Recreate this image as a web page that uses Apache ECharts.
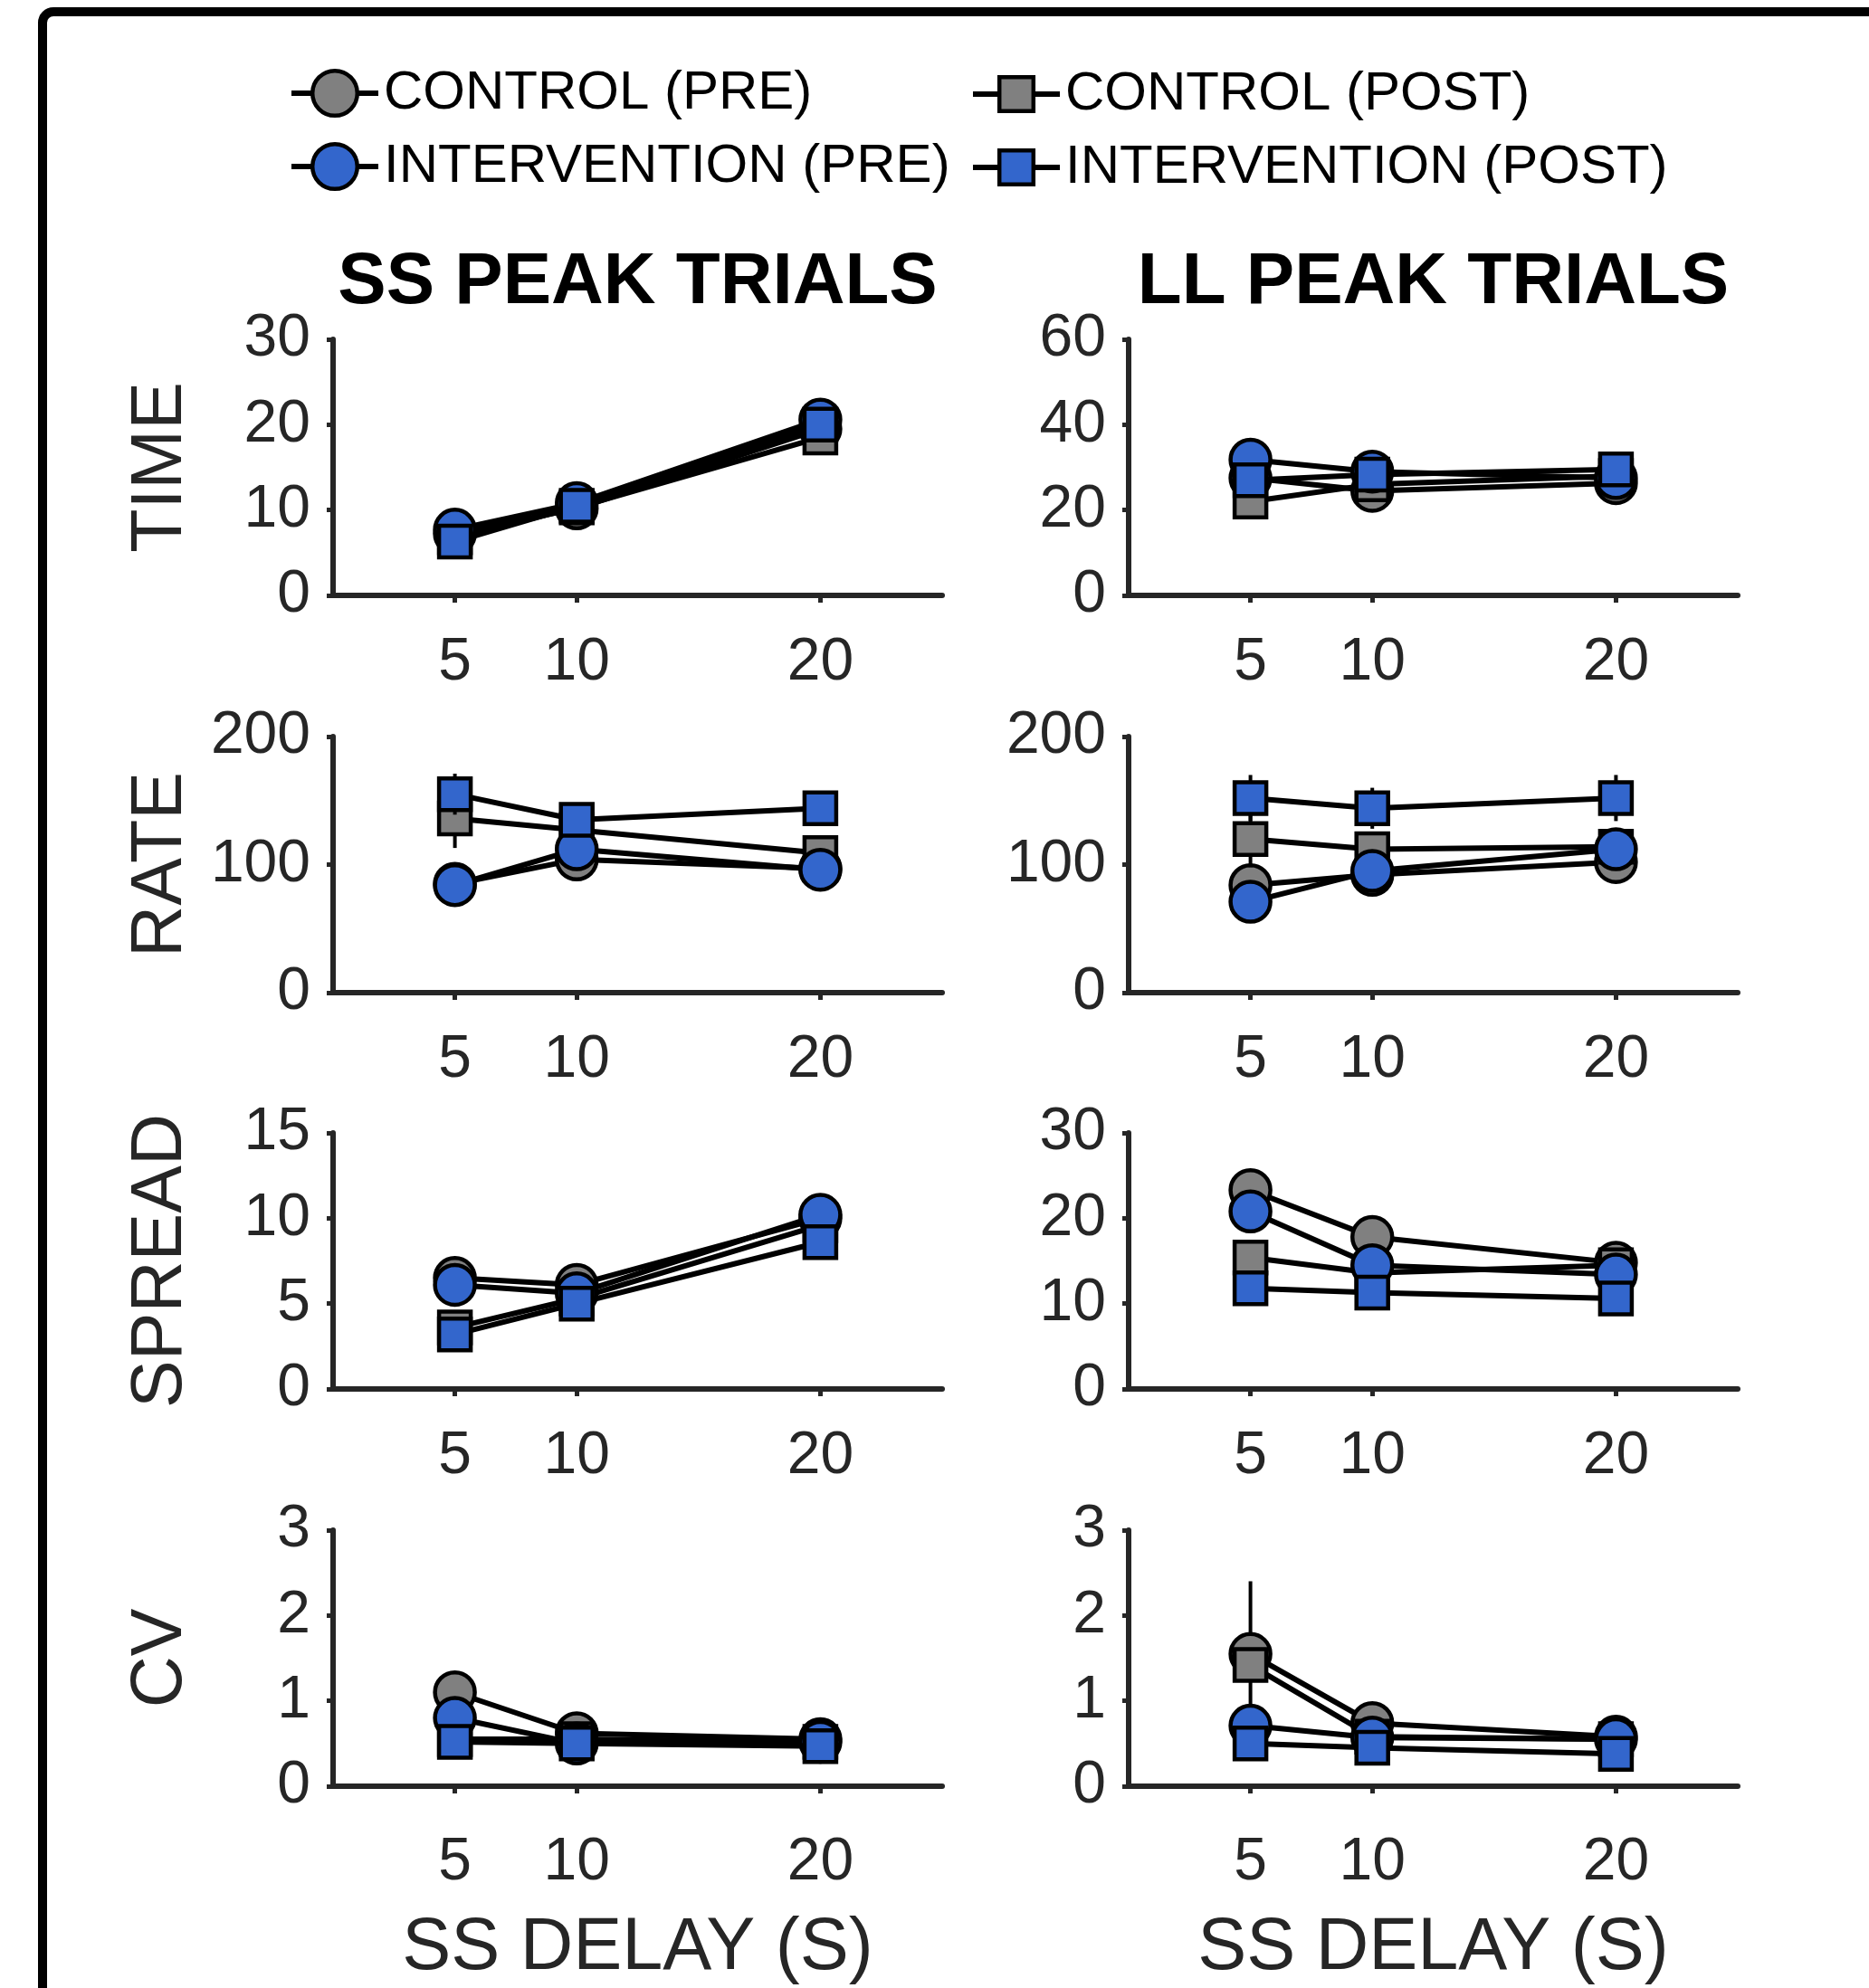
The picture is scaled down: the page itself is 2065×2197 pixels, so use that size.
<!DOCTYPE html>
<html>
<head>
<meta charset="utf-8">
<script src="https://cdn.jsdelivr.net/npm/echarts@6/dist/echarts.min.js"></script>
<style>
  html, body { margin: 0; padding: 0; background: #fff; }
  #chart { width: 2065px; height: 2197px; }
</style>
</head>
<body>
<div id="chart"></div>
<script>
// SS delay levels (seconds) and the ticks shown on every x axis
const delays = [5, 10, 20];
const xTicks = [5, 10, 20];
const groupNames = ['CONTROL (PRE)', 'CONTROL (POST)', 'INTERVENTION (PRE)', 'INTERVENTION (POST)'];
const metricNames = ['TIME', 'RATE', 'SPREAD', 'CV'];
const columnTitles = ['SS PEAK TRIALS', 'LL PEAK TRIALS'];
const xAxisTitle = 'SS DELAY (S)';

// ---- SS peak trials ----
const ssTimeCtrlPre  = [7.2, 10.2, 19.5];
const ssTimeCtrlPost = [6.8, 10.3, 18.5];
const ssTimeIntPre   = [7.7, 10.8, 20.6];
const ssTimeIntPost  = [6.3, 10.5, 20.0];

const ssRateCtrlPre  = [85, 104, 97];
const ssRateCtrlPost = [136, 127, 109];
const ssRateIntPre   = [84, 112, 96];
const ssRateIntPost  = [155, 135, 144];
const ssRateCtrlPostErr = [23, 0, 0];
const ssRateIntPostErr  = [16, 0, 0];

const ssSpreadCtrlPre  = [6.5, 6.1, 10.0];
const ssSpreadCtrlPost = [3.6, 5.3, 9.6];
const ssSpreadIntPre   = [6.1, 5.6, 10.2];
const ssSpreadIntPost  = [3.2, 5.0, 8.6];

const ssCvCtrlPre  = [1.10, 0.62, 0.55];
const ssCvCtrlPost = [0.55, 0.55, 0.52];
const ssCvIntPre   = [0.80, 0.50, 0.52];
const ssCvIntPost  = [0.52, 0.50, 0.47];

// ---- LL peak trials ----
const llTimeCtrlPre  = [27.5, 24.5, 26.3];
const llTimeCtrlPost = [22.0, 26.0, 28.0];
const llTimeIntPre   = [31.8, 29.0, 27.5];
const llTimeIntPost  = [27.0, 28.3, 29.5];

const llRateCtrlPre  = [84, 92, 102];
const llRateCtrlPost = [120, 112, 114];
const llRateIntPre   = [71, 95, 112];
const llRateIntPost  = [152, 144, 152];
const llRateCtrlPostErr = [22, 0, 0];
const llRateIntPostErr  = [18, 16, 18];

const llSpreadCtrlPre  = [23.3, 17.8, 14.8];
const llSpreadCtrlPost = [15.4, 13.6, 14.5];
const llSpreadIntPre   = [20.8, 14.5, 13.4];
const llSpreadIntPost  = [11.8, 11.3, 10.6];

const llCvCtrlPre  = [1.55, 0.74, 0.58];
const llCvCtrlPost = [1.42, 0.58, 0.55];
const llCvIntPre   = [0.71, 0.57, 0.55];
const llCvIntPost  = [0.50, 0.45, 0.38];
const llCvCtrlPreErr = [0.85, 0, 0];

// y-axis ranges per metric row
const yMax      = [[30, 60], [200, 200], [15, 30], [3, 3]];
const yInterval = [[10, 20], [100, 100], [5, 10], [1, 1]];

// panels: [row][col] -> four groups of values and optional error arrays
const panels = [
  [
    { vals: [ssTimeCtrlPre, ssTimeCtrlPost, ssTimeIntPre, ssTimeIntPost], errs: [] },
    { vals: [llTimeCtrlPre, llTimeCtrlPost, llTimeIntPre, llTimeIntPost], errs: [] }
  ],
  [
    { vals: [ssRateCtrlPre, ssRateCtrlPost, ssRateIntPre, ssRateIntPost], errs: [null, ssRateCtrlPostErr, null, ssRateIntPostErr] },
    { vals: [llRateCtrlPre, llRateCtrlPost, llRateIntPre, llRateIntPost], errs: [null, llRateCtrlPostErr, null, llRateIntPostErr] }
  ],
  [
    { vals: [ssSpreadCtrlPre, ssSpreadCtrlPost, ssSpreadIntPre, ssSpreadIntPost], errs: [] },
    { vals: [llSpreadCtrlPre, llSpreadCtrlPost, llSpreadIntPre, llSpreadIntPost], errs: [] }
  ],
  [
    { vals: [ssCvCtrlPre, ssCvCtrlPost, ssCvIntPre, ssCvIntPost], errs: [] },
    { vals: [llCvCtrlPre, llCvCtrlPost, llCvIntPre, llCvIntPost], errs: [llCvCtrlPreErr] }
  ]
];

// ---- styling ----
const FONT = '"Liberation Sans", Arial, Helvetica, sans-serif';
const AXIS_COLOR = '#262626';
const GRAY = '#808080';
const BLUE = '#3366cc';
const groupColor  = [GRAY, GRAY, BLUE, BLUE];
const groupSymbol = ['circle', 'rect', 'circle', 'rect'];
const groupSize   = [44, 35, 44, 35];

const colLeft = [368, 1247];
const plotWidth = 673;
const rowTop = [375, 814, 1252, 1691];
const plotHeight = 283;

const grids = [], xAxes = [], yAxes = [], series = [];
let gi = 0;
for (let r = 0; r < 4; r++) {
  for (let c = 0; c < 2; c++) {
    grids.push({
      left: colLeft[c], top: rowTop[r], width: plotWidth, height: plotHeight,
      containLabel: false, outerBoundsMode: 'none'
    });
    xAxes.push({
      gridIndex: gi, type: 'value', min: 0, max: 25,
      axisLine: { show: true, onZero: false, lineStyle: { color: AXIS_COLOR, width: 6 } },
      axisTick: { show: true, customValues: xTicks, length: 8, lineStyle: { color: AXIS_COLOR, width: 5 } },
      axisLabel: { customValues: xTicks, fontSize: 66, color: AXIS_COLOR, fontFamily: FONT, margin: r === 3 ? 52 : 42 },
      splitLine: { show: false }
    });
    yAxes.push({
      gridIndex: gi, type: 'value', min: 0, max: yMax[r][c], interval: yInterval[r][c],
      axisLine: { show: true, onZero: false, lineStyle: { color: AXIS_COLOR, width: 6 } },
      axisTick: { show: true, length: 7, lineStyle: { color: AXIS_COLOR, width: 5 } },
      axisLabel: { fontSize: 66, color: AXIS_COLOR, fontFamily: FONT, margin: 25 },
      splitLine: { show: false }
    });
    const p = panels[r][c];
    for (let g = 0; g < 4; g++) {
      const err = p.errs[g];
      if (err) {
        series.push({
          type: 'custom', xAxisIndex: gi, yAxisIndex: gi, silent: true, z: 10 + g * 3,
          data: delays.map((d, i) => [d, p.vals[g][i], err[i]]),
          renderItem: (params, api) => {
            const e = api.value(2);
            if (!e) return null;
            const x = api.value(0), y = api.value(1);
            const a = api.coord([x, y + e]);
            const b = api.coord([x, y - e]);
            return { type: 'line', shape: { x1: a[0], y1: a[1], x2: b[0], y2: b[1] },
                     style: { stroke: '#000', lineWidth: 4 } };
          }
        });
      }
      series.push({
        type: 'line', name: groupNames[g], xAxisIndex: gi, yAxisIndex: gi, z: 11 + g * 3,
        data: delays.map((d, i) => [d, p.vals[g][i]]),
        symbol: groupSymbol[g], symbolSize: groupSize[g], showAllSymbol: true,
        itemStyle: { color: groupColor[g], borderColor: '#000', borderWidth: 4.5, opacity: 1 },
        lineStyle: { color: '#000', width: 6 },
        emphasis: { disabled: true }, silent: true
      });
    }
    gi++;
  }
}

// legend: two rows, two columns
const legendPos = [
  { left: 319,  center: 104 }, { left: 1072, center: 104 },
  { left: 319,  center: 185 }, { left: 1072, center: 185 }
];
const legends = groupNames.map((name, g) => {
  const ih = g % 2 === 0 ? 62 : 47;
  return {
    data: [name], left: legendPos[g].left, top: legendPos[g].center - Math.max(ih, 60) / 2, padding: 0,
    itemWidth: 96, itemHeight: ih, itemGap: 0, selectedMode: false,
    itemStyle: { borderColor: '#000', borderWidth: 4.5 },
    lineStyle: { color: '#000', width: 6 },
    textStyle: { fontSize: 60, color: '#000', fontFamily: FONT, padding: [0, 0, 0, 1] }
  };
});

// frame, column titles, metric names, x-axis titles
const graphics = [
  { type: 'rect', shape: { x: 47, y: 13, width: 2300, height: 2400, r: 12 },
    style: { fill: 'transparent', stroke: '#000', lineWidth: 10 }, silent: true }
];
columnTitles.forEach((t, c) => {
  graphics.push({ type: 'text', x: colLeft[c] + plotWidth / 2, y: 313,
    style: { text: t, fontSize: 80, fontWeight: 'bold', fontFamily: FONT, fill: '#000',
             align: 'center', verticalAlign: 'middle' } });
  graphics.push({ type: 'text', x: colLeft[c] + plotWidth / 2, y: 2154,
    style: { text: xAxisTitle, fontSize: 81, fontFamily: FONT, fill: AXIS_COLOR,
             align: 'center', verticalAlign: 'middle' } });
});
metricNames.forEach((m, r) => {
  graphics.push({ type: 'text', x: 178, y: rowTop[r] + plotHeight / 2, rotation: Math.PI / 2,
    style: { text: m, fontSize: 79, fontFamily: FONT, fill: AXIS_COLOR,
             align: 'center', verticalAlign: 'middle' } });
});

const chart = echarts.init(document.getElementById('chart'), null, { renderer: 'canvas' });
chart.setOption({
  animation: false,
  backgroundColor: '#fff',
  grid: grids,
  xAxis: xAxes,
  yAxis: yAxes,
  legend: legends,
  series: series,
  graphic: graphics
});
</script>
</body>
</html>
